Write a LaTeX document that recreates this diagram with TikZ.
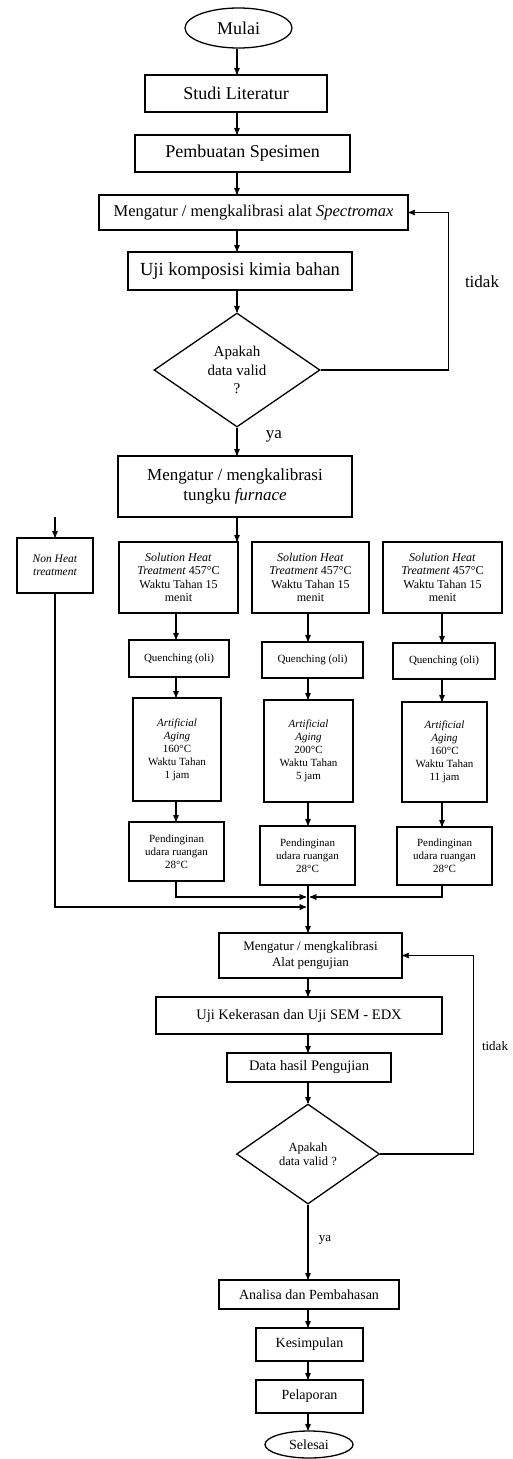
\documentclass[tikz,border=0pt]{standalone}
\usepackage{fontspec}
\setmainfont{Liberation Serif}
\usetikzlibrary{arrows,shapes,calc,positioning}

\newcommand{\ukuran}[2]{\fontsize{#1}{#2}\selectfont}

\begin{document}
\begin{tikzpicture}[x=1pt,y=-1pt,>=stealth',line width=1.3pt,
		proses/.style={draw,rectangle,align=center,inner sep=1pt},
		keputusan/.style={draw,diamond,aspect=1.5,align=center,inner sep=0pt},
		terminal/.style={draw,ellipse,inner sep=0pt},
		keterangan/.style={inner sep=0pt}]
		\useasboundingbox (0,0) rectangle (513,1459);
		% nodes bagian atas
		\node[terminal,minimum width=107pt,minimum height=40pt,font=\ukuran{18}{20}] (mulai) at (238.5,28) {Mulai};
		\node[proses,minimum width=182pt,minimum height=37pt,font=\ukuran{18}{20}] (studi) at (236,93.5) {Studi Literatur};
		\node[proses,minimum width=215pt,minimum height=37pt,font=\ukuran{18}{20}] (spesimen) at (242.5,153.5) {Pembuatan Spesimen};
		\node[proses,minimum width=309pt,minimum height=35pt,font=\ukuran{16.5}{19}] (kal1) at (253.5,212.5) {Mengatur / mengkalibrasi alat \textit{Spectromax}};
		\node[proses,minimum width=224pt,minimum height=38pt,font=\ukuran{18.5}{20}] (komposisi) at (240,271) {Uji komposisi kimia bahan};
		\node[keputusan,minimum width=166pt,minimum height=114pt,font=\ukuran{15}{18.5}] (valid1) at (237,370) {Apakah\\ data valid\\ ?};
		\node[proses,minimum width=234pt,minimum height=61pt,font=\ukuran{17}{20}] (tungku) at (235,486.5) {Mengatur / mengkalibrasi\\ tungku \textit{furnace}};

		% perlakuan
		\node[proses,minimum width=76pt,minimum height=55pt,font=\ukuran{11.5}{13.5}] (nonheat) at (55,565.5) {\textit{Non Heat}\\ \textit{treatment}};
		\node[proses,minimum width=119pt,minimum height=71pt,font=\ukuran{12}{13.5}] (sol1) at (178.5,577.5) {\textit{Solution Heat}\\ \textit{Treatment} 457°C\\ Waktu Tahan 15\\ menit};
		\node[proses,minimum width=117pt,minimum height=71pt,font=\ukuran{12}{13.5}] (sol2) at (310.5,577.5) {\textit{Solution Heat}\\ \textit{Treatment} 457°C\\ Waktu Tahan 15\\ menit};
		\node[proses,minimum width=119pt,minimum height=71pt,font=\ukuran{12}{13.5}] (sol3) at (442.5,577.5) {\textit{Solution Heat}\\ \textit{Treatment} 457°C\\ Waktu Tahan 15\\ menit};
		\node[proses,minimum width=100pt,minimum height=37pt,font=\ukuran{11}{13}] (q1) at (179,658.5) {Quenching (oli)};
		\node[proses,minimum width=101pt,minimum height=36pt,font=\ukuran{11}{13}] (q2) at (312.5,660) {Quenching (oli)};
		\node[proses,minimum width=102pt,minimum height=36pt,font=\ukuran{11}{13}] (q3) at (444,661) {Quenching (oli)};
		\node[proses,minimum width=88pt,minimum height=103pt,font=\ukuran{11}{13}] (a1) at (177,749.5) {\textit{Artificial}\\ \textit{Aging}\\ 160°C\\ Waktu Tahan\\ 1 jam};
		\node[proses,minimum width=89pt,minimum height=102pt,font=\ukuran{11}{13}] (a2) at (308.5,751) {\textit{Artificial}\\ \textit{Aging}\\ 200°C\\ Waktu Tahan\\ 5 jam};
		\node[proses,minimum width=85pt,minimum height=100pt,font=\ukuran{11}{13}] (a3) at (444.5,752) {\textit{Artificial}\\ \textit{Aging}\\ 160°C\\ Waktu Tahan\\ 11 jam};
		\node[proses,minimum width=95pt,minimum height=59pt,font=\ukuran{11}{13}] (p1) at (176.5,851.5) {Pendinginan\\ udara ruangan\\ 28°C};
		\node[proses,minimum width=95pt,minimum height=59pt,font=\ukuran{11}{13}] (p2) at (307.5,855.5) {Pendinginan\\ udara ruangan\\ 28°C};
		\node[proses,minimum width=95pt,minimum height=58pt,font=\ukuran{11}{13}] (p3) at (444.5,856) {Pendinginan\\ udara ruangan\\ 28°C};

		% nodes bagian bawah
		\node[proses,minimum width=183pt,minimum height=45pt,font=\ukuran{13}{16}] (kal2) at (310.5,955.5) {Mengatur / mengkalibrasi\\ Alat pengujian};
		\node[proses,minimum width=286pt,minimum height=37pt,font=\ukuran{14.5}{16}] (keras) at (299,1015.5) {Uji Kekerasan dan Uji SEM - EDX};
		\node[proses,minimum width=164pt,minimum height=29pt,font=\ukuran{14.5}{16}] (data) at (309,1067.5) {Data hasil Pengujian};
		\node[keputusan,minimum width=143pt,minimum height=100pt,font=\ukuran{12.5}{14.5}] (valid2) at (308,1154) {Apakah\\ data valid ?};
		\node[proses,minimum width=180pt,minimum height=29pt,font=\ukuran{14}{16}] (analisa) at (309,1294.5) {Analisa dan Pembahasan};
		\node[proses,minimum width=107pt,minimum height=33pt,font=\ukuran{14}{16}] (kesimpulan) at (309.5,1344.5) {Kesimpulan};
		\node[proses,minimum width=107pt,minimum height=33pt,font=\ukuran{14}{16}] (pelaporan) at (309.5,1396.5) {Pelaporan};
		\node[terminal,minimum width=88pt,minimum height=27pt,font=\ukuran{14}{16}] (selesai) at (309,1444.5) {Selesai};

		\node[keterangan,font=\ukuran{17}{19}] (tidak1) at (482,282) {tidak};
		\node[keterangan,font=\ukuran{17}{19}] (ya1) at (274,436) {ya};
		\node[keterangan,font=\ukuran{13}{15}] (tidak2) at (495,1046) {tidak};
		\node[keterangan,font=\ukuran{13}{15}] (ya2) at (325,1240) {ya};

		% sumbu panah
		\coordinate (sumbu) at (237,0);
		\coordinate (sumbu2) at (308,0);
		\coordinate (k1) at (176,0);
		\coordinate (k2) at (308,0);
		\coordinate (k3) at (442,0);
		\coordinate (awalnon) at (55,517);
		\coordinate (gabung) at (308,897);
		\coordinate (gabung2) at (308,907);

		\path[->] (mulai.south -| sumbu) edge (studi.north -| sumbu)
				(studi.south -| sumbu) edge (spesimen.north -| sumbu)
				(spesimen.south -| sumbu) edge (kal1.north -| sumbu)
				(kal1.south -| sumbu) edge (komposisi.north -| sumbu)
				(komposisi.south -| sumbu) edge (valid1.north)
				(valid1.south) edge (tungku.north -| sumbu)
				(tungku.south -| sumbu) edge (sol1.north -| sumbu);
		\draw[->] (valid1.east) -- ++(128,0) |- (kal1.east);
		\path[->] (awalnon) edge (nonheat.north);

		\path[->] (sol1.south -| k1) edge (q1.north -| k1)
				(q1.south -| k1) edge (a1.north -| k1)
				(a1.south -| k1) edge (p1.north -| k1);
		\path[->] (sol2.south -| k2) edge (q2.north -| k2)
				(q2.south -| k2) edge (a2.north -| k2)
				(a2.south -| k2) edge (p2.north -| k2);
		\path[->] (sol3.south -| k3) edge (q3.north -| k3)
				(q3.south -| k3) edge (a3.north -| k3)
				(a3.south -| k3) edge (p3.north -| k3);

		\draw[->,shorten >=2pt] (p1.south -| k1) |- (gabung);
		\draw[->,shorten >=2pt] (p3.south -| k3) |- (gabung);
		\draw[->,shorten >=2pt] (nonheat.south) |- (gabung2);
		\path[->] (p2.south -| k2) edge (kal2.north -| k2);

		\path[->] (kal2.south -| sumbu2) edge (keras.north -| sumbu2)
				(keras.south -| sumbu2) edge (data.north -| sumbu2)
				(data.south -| sumbu2) edge (valid2.north)
				(valid2.south) edge (analisa.north -| sumbu2)
				(analisa.south -| sumbu2) edge (kesimpulan.north -| sumbu2)
				(kesimpulan.south -| sumbu2) edge (pelaporan.north -| sumbu2)
				(pelaporan.south -| sumbu2) edge (selesai.north -| sumbu2);
		\draw[->] (valid2.east) -- ++(93,0) |- (kal2.east);
\end{tikzpicture}
\end{document}
